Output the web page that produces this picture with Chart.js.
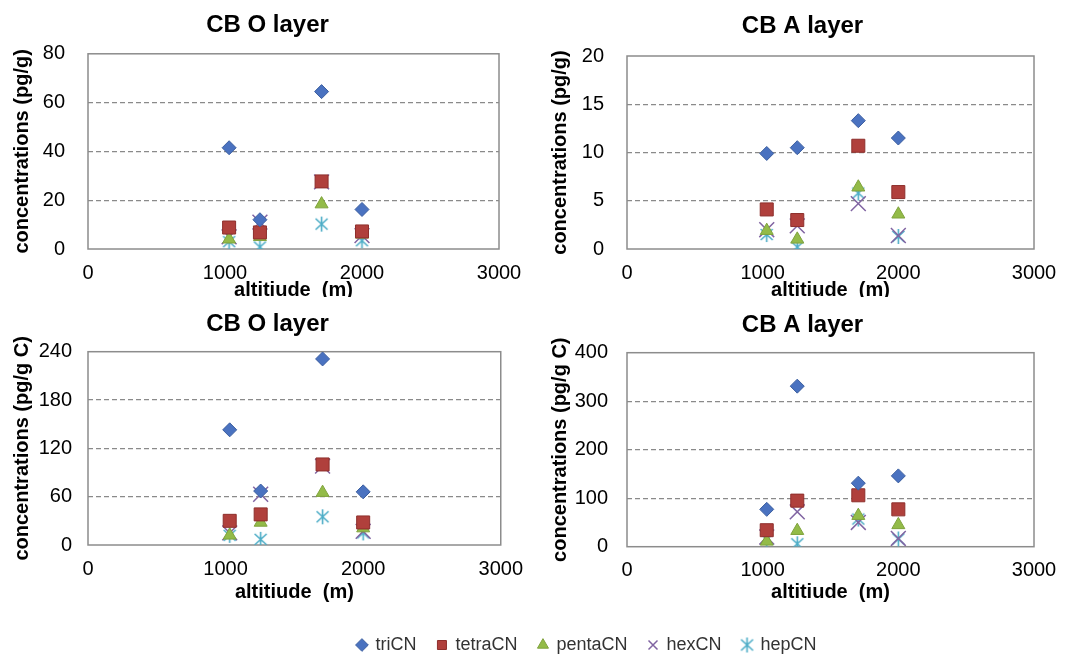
<!DOCTYPE html>
<html>
<head>
<meta charset="utf-8">
<script src="https://cdn.jsdelivr.net/npm/chart.js@4.4.1/dist/chart.umd.min.js"></script>
<style>
  body { margin: 0; background: #fff; width: 1070px; height: 655px; position: relative; overflow: hidden; }
  canvas { position: absolute; background: transparent; }
  #c3, #c4 { background: #fff; }
</style>
</head>
<body>
<canvas id="c1" width="535" height="310" style="left:0;top:0"></canvas>
<canvas id="c2" width="535" height="310" style="left:535px;top:0"></canvas>
<canvas id="c3" width="535" height="313" style="left:0;top:297px"></canvas>
<canvas id="c4" width="535" height="313" style="left:535px;top:297px"></canvas>
<canvas id="leg" width="1070" height="100" style="left:0;top:615px"></canvas>
<script>
// altitude of the four sampling sites (m)
const altitudes = [1030, 1255, 1705, 2000];
const seriesNames = ['triCN', 'tetraCN', 'pentaCN', 'hexCN', 'hepCN'];

// CB O layer, pg/g
const oTri = [41.5, 12, 64.5, 16.2];
const oTetra = [8.8, 6.8, 27.7, 7.2];
const oPenta = [4.0, 5.0, 18.4, 6.0];
const oHex = [5.0, 11.0, 27.5, 5.5];
const oHep = [3.0, 0.8, 10.2, 3.4];

// CB A layer, pg/g
const aTri = [9.9, 10.5, 13.3, 11.5];
const aTetra = [4.1, 3.0, 10.7, 5.9];
const aPenta = [1.9, 1.0, 6.4, 3.6];
const aHex = [2.0, 2.4, 4.7, 1.4];
const aHep = [1.5, 0.2, 5.8, 1.3];

// CB O layer, pg/g C
const ocTri = [143, 67, 231, 66];
const ocTetra = [30, 38, 100, 28];
const ocPenta = [12, 28, 65, 21];
const ocHex = [15, 63, 98, 17];
const ocHep = [12, 7, 35, 15];

// CB A layer, pg/g C
const acTri = [77, 331, 131, 146];
const acTetra = [34, 95, 106, 77];
const acPenta = [11, 33, 64, 45];
const acHex = [20, 72, 50, 17];
const acHep = [15, 6, 57, 16];

const xTicks = [0, 1000, 2000, 3000];

const FONT = "'Liberation Sans', Arial, sans-serif";

// excel style asterisk marker: X plus a vertical bar
function asterisk(color) {
  const c = document.createElement('canvas');
  c.width = 17; c.height = 17;
  const g = c.getContext('2d');
  g.strokeStyle = color; g.lineWidth = 1.6;
  g.beginPath();
  g.moveTo(8.5, 1); g.lineTo(8.5, 16);
  g.moveTo(2.5, 3); g.lineTo(14.5, 14);
  g.moveTo(14.5, 3); g.lineTo(2.5, 14);
  g.stroke();
  return c;
}
const hepMark = asterisk('#4BACC6');

const styles = [
  { pointStyle: 'rectRot', backgroundColor: '#4A72C0', borderColor: '#3B5E9F', pointRadius: 7, borderWidth: 1 },
  { pointStyle: 'rect', backgroundColor: '#B0403C', borderColor: '#8E2F2C', pointRadius: 9.2, borderWidth: 1 },
  { pointStyle: 'triangle', backgroundColor: '#93BB48', borderColor: '#7FA23C', pointRadius: 7.5, borderWidth: 1 },
  { pointStyle: 'crossRot', backgroundColor: '#8064A2', borderColor: '#8064A2', pointRadius: 10.5, borderWidth: 1.5 },
  { pointStyle: hepMark, backgroundColor: '#4BACC6', borderColor: '#4BACC6', pointRadius: 8, borderWidth: 1.5 }
];

function makeSets(lists) {
  return lists.map((vals, i) => Object.assign({
    label: seriesNames[i],
    data: vals.map((v, k) => ({ x: altitudes[k], y: v }))
  }, styles[i]));
}

const boxPlugin = {
  id: 'plotBox',
  beforeDatasetsDraw(chart) {
    const a = chart.chartArea, ctx = chart.ctx;
    ctx.save();
    ctx.strokeStyle = '#8c8c8c';
    ctx.lineWidth = 1.5;
    ctx.strokeRect(a.left, a.top, a.right - a.left, a.bottom - a.top);
    ctx.restore();
  }
};

function panel(id, cfg) {
  const ctx = document.getElementById(id).getContext('2d');
  return new Chart(ctx, {
    type: 'scatter',
    data: { datasets: makeSets(cfg.lists) },
    plugins: [boxPlugin],
    options: {
      responsive: false,
      animation: false,
      layout: { padding: 0 },
      plugins: {
        legend: { display: false },
        tooltip: { enabled: false },
        title: {
          display: true,
          text: cfg.title,
          color: '#000',
          font: { family: FONT, size: 24, weight: 'bold' },
          padding: { top: cfg.titleTop, bottom: cfg.titleBottom }
        }
      },
      scales: {
        x: {
          type: 'linear',
          min: 0, max: 3000,
          afterBuildTicks: s => { s.ticks = xTicks.map(v => ({ value: v })); },
          afterFit: s => { s.height = cfg.xHeight; },
          grid: { display: false, drawTicks: false },
          border: { display: false },
          ticks: { color: '#000', padding: 12, maxRotation: 0, callback: v => String(v), font: { family: FONT, size: 20 } },
          title: {
            display: true,
            text: 'altitiude  (m)',
            color: '#000',
            font: { family: FONT, size: 20, weight: 'bold' },
            padding: { top: 0, bottom: cfg.xTitlePad }
          }
        },
        y: {
          min: 0, max: cfg.yMax,
          afterFit: s => { s.width = cfg.yWidth; },
          ticks: { stepSize: cfg.yStep, color: '#000', padding: cfg.tickPad, font: { family: FONT, size: 20 } },
          grid: {
            drawTicks: false,
            color: c => (c.index === 0 || c.index === 4) ? 'rgba(0,0,0,0)' : '#8a8a8a',
            lineWidth: 1.3
          },
          border: { display: false, dash: [5, 3] },
          title: {
            display: true,
            text: cfg.yTitle,
            color: '#000',
            font: { family: FONT, size: 20, weight: 'bold' },
            padding: { top: cfg.yTitlePad, bottom: 0 }
          }
        },
        // empty right-hand gutter so the title centres on the whole panel
        gutter: {
          position: 'right',
          afterFit: s => { s.width = cfg.padRight; },
          grid: { display: false, drawTicks: false },
          border: { display: false },
          ticks: { display: false }
        }
      }
    }
  });
}

panel('c1', {
  title: 'CB O layer', yTitle: 'concentrations (pg/g)',
  lists: [oTri, oTetra, oPenta, oHex, oHep],
  yMax: 80, yStep: 20, padRight: 36, yWidth: 88, tickPad: 23,
  titleTop: 11, titleBottom: 14, xHeight: 61, xTitlePad: 7.5, yTitlePad: 10
});
panel('c2', {
  title: 'CB A layer', yTitle: 'concentrations (pg/g)',
  lists: [aTri, aTetra, aPenta, aHex, aHep],
  yMax: 20, yStep: 5, padRight: 36, yWidth: 92, tickPad: 23,
  titleTop: 12, titleBottom: 15.2, xHeight: 61, xTitlePad: 7.5, yTitlePad: 13
});
panel('c3', {
  title: 'CB O layer', yTitle: 'concentrations (pg/g C)',
  lists: [ocTri, ocTetra, ocPenta, ocHex, ocHep],
  yMax: 240, yStep: 60, padRight: 34, yWidth: 88, tickPad: 16,
  titleTop: 12.5, titleBottom: 13.4, xHeight: 65, xTitlePad: 5.3, yTitlePad: 10
});
panel('c4', {
  title: 'CB A layer', yTitle: 'concentrations (pg/g C)',
  lists: [acTri, acTetra, acPenta, acHex, acHep],
  yMax: 400, yStep: 100, padRight: 36, yWidth: 92, tickPad: 19,
  titleTop: 13.5, titleBottom: 13.4, xHeight: 63.3, xTitlePad: 5.3, yTitlePad: 13
});

// shared legend underneath the four panels
new Chart(document.getElementById('leg').getContext('2d'), {
  type: 'scatter',
  data: { datasets: seriesNames.map((n, i) => Object.assign({ label: n, data: [] }, styles[i], { pointRadius: 6 })) },
  options: {
    responsive: false,
    animation: false,
    layout: { padding: { left: 104, top: 0 } },
    scales: { x: { display: false }, y: { display: false } },
    plugins: {
      tooltip: { enabled: false },
      legend: {
        display: true,
        position: 'top',
        labels: {
          usePointStyle: true,
          boxWidth: 9, boxHeight: 9,
          padding: 21,
          color: '#333',
          font: { family: FONT, size: 18 }
        }
      }
    }
  }
});
</script>
</body>
</html>
